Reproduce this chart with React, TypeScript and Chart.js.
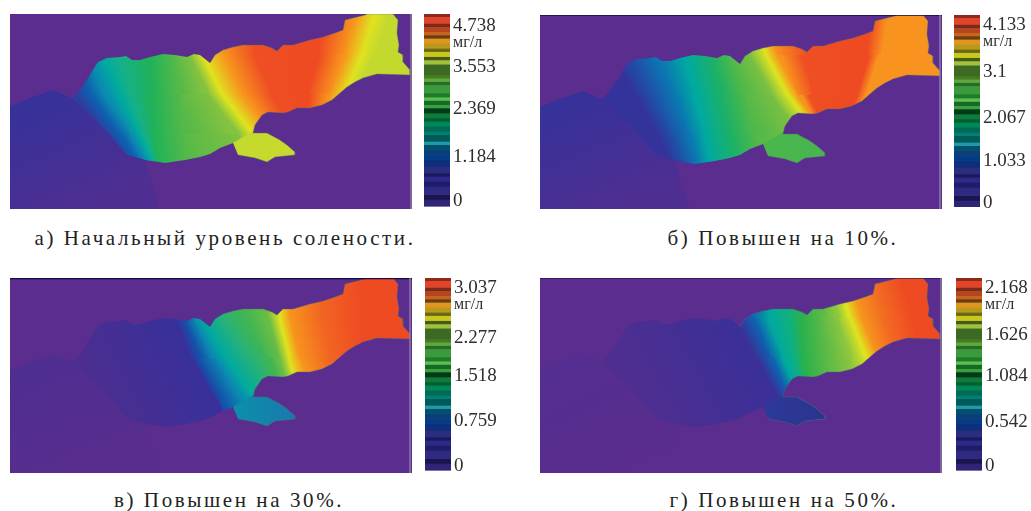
import React, { useEffect, useRef } from "react";
import { Chart, registerables } from "chart.js";

Chart.register(...registerables);

// ----- map shape, in map units -----
const shapeOutline: number[][] = [
  [62, 84], [70, 76], [78, 64], [84, 54], [88, 48], [97, 44], [110, 43], [116, 42], [122, 46], [130, 46], [140, 43], [153, 40], [165, 41], [177, 43], [184, 40], [190, 41],
  [200, 49], [205, 41], [213, 36], [223, 33], [233, 31], [253, 31], [262, 34], [267, 37], [273, 31], [283, 31], [300, 26], [313, 23], [325, 19], [333, 16], [335, 6],
  [355, 1], [357, 0], [383, 0], [388, 6], [387, 19], [389, 31], [388, 38], [393, 41], [393, 48], [400, 56], [400, 61], [367, 60], [360, 62], [353, 64],
  [345, 68], [337, 73], [330, 79], [322, 86], [312, 91], [300, 94], [287, 94], [278, 98], [273, 99], [258, 98], [252, 101], [245, 111], [243, 119], [257, 119],
  [270, 126], [277, 131], [285, 138], [285, 141], [265, 143], [257, 148], [245, 144], [228, 141], [223, 129], [210, 134], [200, 140], [190, 143],
  [175, 146], [155, 149], [135, 146], [117, 141], [90, 111],
];
const lobeShape: number[][] = [
  [223, 129], [243, 117], [257, 119], [270, 126], [277, 131], [285, 138], [285, 141], [265, 143], [257, 148], [245, 144], [228, 141],
];
const plumeShape: number[][] = [
  [0, 92], [20, 84], [43, 76], [62, 84], [90, 111], [117, 141], [135, 146], [150, 195], [0, 195],
];
const isoRows = [0, 40, 80, 120, 160];

// ----- concentration bands: boundary position on each row, and its colour -----
const isoA = [
  [20, 40, 65, 95, 125], [50, 65, 80, 110, 135], [65, 78, 95, 122, 142], [80, 90, 110, 128, 148], [100, 108, 120, 135, 150],
  [140, 140, 141, 143, 148], [165, 165, 170, 175, 180], [175, 180, 198, 228, 262], [183, 192, 212, 243, 280],
  [205, 214, 233, 262, 300], [240, 245, 262, 285, 320], [315, 308, 298, 295, 295], [345, 335, 320, 310, 310],
  [365, 352, 335, 325, 325], [380, 365, 345, 335, 335],
];
const colorsA = ["#2c3f9e", "#0f5fb0", "#0a8cb0", "#00a9a0", "#16b088", "#1fb25a", "#55b948", "#85c240", "#dfe31f", "#f7941d", "#ef4e23", "#ef4a23", "#f7941d", "#dfe21f", "#c4d92e"];

const isoB = [
  [50, 72, 95, 118, 135], [75, 92, 112, 132, 148], [100, 118, 135, 150, 160], [130, 145, 155, 165, 172], [155, 172, 182, 190, 200],
  [180, 190, 205, 215, 225], [195, 210, 232, 260, 290], [212, 226, 248, 278, 310], [222, 238, 258, 285, 315],
  [262, 265, 272, 285, 315], [330, 328, 318, 300, 300], [350, 340, 325, 310, 310],
];
const colorsB = ["#33339b", "#1f50a8", "#0b78b2", "#00a9a2", "#1cb166", "#50b849", "#7bc043", "#dfe31f", "#f7941d", "#ef4e23", "#ef4a23", "#f8931f"];

const isoC = [
  [40, 50, 70, 90, 110], [160, 165, 180, 205, 225], [170, 175, 190, 210, 228], [180, 183, 205, 232, 250], [190, 192, 215, 243, 265],
  [205, 210, 240, 265, 285], [230, 235, 258, 275, 295], [255, 258, 270, 280, 300], [268, 270, 279, 290, 310],
  [278, 280, 290, 305, 320], [310, 312, 320, 330, 340], [350, 350, 355, 360, 365],
];
const colorsC = ["#4c2e90", "#38309a", "#1452aa", "#0b8ab0", "#00a9a0", "#25b27a", "#40b554", "#6abd45", "#dfe31f", "#f7941d", "#f26522", "#ef4b23"];

const isoD = [
  [40, 50, 70, 90, 110], [190, 195, 215, 240, 260], [205, 212, 232, 250, 270], [225, 230, 243, 260, 275], [245, 248, 255, 265, 280],
  [262, 262, 263, 270, 285], [280, 280, 285, 290, 300], [290, 298, 310, 320, 330], [298, 310, 327, 340, 350],
  [310, 322, 338, 350, 360], [335, 345, 355, 365, 370], [360, 372, 380, 385, 390],
];
const colorsD = ["#502e90", "#3a3098", "#1060b0", "#00a9a0", "#0fb080", "#2ab14b", "#57b947", "#8dc63f", "#dfe31f", "#f7941d", "#f26a22", "#ef4b23"];

// ----- colour bar -----
const stripeSizes = [2.7, 6.7, 3.3, 5, 3.3, 3.3, 5, 5, 3.3, 5, 3.3, 4.3, 10.7, 3.3, 3.3, 3.3, 8.3, 4, 3.3, 4.3, 3.3, 5, 5, 3.3, 5, 5, 3.3, 6.7, 3.3, 5, 6.7, 3.3, 6.7, 6.7, 3.3, 5, 5, 8.3, 5, 6.7];
const stripeColors = [
  "#8c2a1e", "#e0452a", "#7a2a1a", "#b5451d", "#c8641e", "#6a3f14", "#e0961e", "#b9981e", "#6a6a14", "#c8c81e",
  "#4a5a14", "#a0c040", "#3c6a22", "#4a7a22", "#5aaa3c", "#2d6a28", "#3a9a3c", "#1f7a2c", "#5cc050", "#156a28",
  "#3aa040", "#013a18", "#107a3a", "#006030", "#00875a", "#006a55", "#008070", "#005a58", "#209aa8", "#005070",
  "#0a3f7a", "#003a8a", "#0e2f7a", "#2a2d80", "#1a1a5a", "#2d2a8a", "#201c68", "#2e2a82", "#1a1550", "#2f2478",
];

const panelA = {
  caption: "а) Начальный уровень солености.", capX: 225, capY: 238,
  left: 10, top: 14, height: 195, iso: isoA, colors: colorsA, lobe: ["#c4d92e", "#c8da2c"],
  plume: ["#35329a", "#4f2e92"], topLine: null as null | number[], edge: 401,
  barLeft: 424, barTop: 14, barHeight: 193,
  tickPos: [12.5, 29, 53.5, 95.5, 143, 187], ticks: ["4.738", "мг/л", "3.553", "2.369", "1.184", "0"],
};
const panelB = {
  caption: "б) Повышен на 10%.", capX: 783, capY: 238,
  left: 540, top: 15, height: 194, iso: isoB, colors: colorsB, lobe: ["#4ab64e", "#47b64f"],
  plume: ["#35329a", "#4f2e92"], topLine: [1.5], edge: 400,
  barLeft: 954, barTop: 15, barHeight: 192,
  tickPos: [10.5, 27, 57, 103, 146.5, 188.5], ticks: ["4.133", "мг/л", "3.1", "2.067", "1.033", "0"],
};
const panelC = {
  caption: "в) Повышен на 30%.", capX: 229, capY: 500,
  left: 10, top: 278, height: 195, iso: isoC, colors: colorsC, lobe: ["#0b90aa", "#1a78ae"],
  plume: ["#4e2e91", "#592d8e"], topLine: [2.5], edge: 400,
  barLeft: 425, barTop: 278, barHeight: 194,
  tickPos: [10.5, 27, 60.5, 98, 143.5, 188.5], ticks: ["3.037", "мг/л", "2.277", "1.518", "0.759", "0"],
};
const panelD = {
  caption: "г) Повышен на 50%.", capX: 784, capY: 500,
  left: 540, top: 278, height: 195, iso: isoD, colors: colorsD, lobe: ["#2d3a98", "#2b3390"],
  plume: ["#542e90", "#5a2d8e"], topLine: [1], edge: 401,
  barLeft: 956, barTop: 278, barHeight: 194,
  tickPos: [10.5, 27, 57.5, 98, 144.5, 188.5], ticks: ["2.168", "мг/л", "1.626", "1.084", "0.542", "0"],
};
const panels = [panelA, panelB, panelC, panelD];
const GROUND = "#5b2d8e";

const pts = (a: number[][]) => a.map(([x, y]) => ({ x, y }));

function linear(p0: number[], p1: number[], c0: string, c1: string) {
  return (c: any) => {
    const { x, y } = c.chart.scales;
    const coords = [x.getPixelForValue(p0[0]), y.getPixelForValue(p0[1]), x.getPixelForValue(p1[0]), y.getPixelForValue(p1[1])];
    if (!coords.every(Number.isFinite)) return c0;
    const g = c.chart.ctx.createLinearGradient(coords[0], coords[1], coords[2], coords[3]);
    g.addColorStop(0, c0);
    g.addColorStop(1, c1);
    return g;
  };
}
const polygon = (data: number[][], backgroundColor: any) => ({
  data: pts(data), backgroundColor, fill: "shape", showLine: true, borderWidth: 0, pointRadius: 0, tension: 0,
});
const stroke = (data: number[][], borderColor: string, borderWidth: number) => ({
  data: pts(data), borderColor, borderWidth, fill: false, showLine: true, pointRadius: 0, tension: 0,
});

function mapDatasets(p: typeof panelA, W: number) {
  const H = p.height;
  const out: any[] = [];
  out.push(polygon([[-2, -2], [W + 2, -2], [W + 2, H + 2], [-2, H + 2]], GROUND));
  // bands, row by row and left to right
  const n = p.iso.length;
  const last = isoRows.length - 1;
  for (let j = 0; j < last; j++) {
    const y0 = isoRows[j], y1 = isoRows[j + 1];
    out.push(polygon([[-2, y0], [p.iso[0][j] + 1, y0], [p.iso[0][j + 1] + 1, y1 + 1], [-2, y1 + 1]], p.colors[0]));
    for (let i = 0; i < n - 1; i++) {
      const l0 = p.iso[i][j], l1 = p.iso[i][j + 1], r0 = p.iso[i + 1][j], r1 = p.iso[i + 1][j + 1];
      const dx = (l1 - l0 + r1 - r0) / 2, dy = y1 - y0;
      const len = Math.hypot(dx, dy);
      const nx = dy / len, ny = -dx / len;
      const ym = (y0 + y1) / 2, lm = (l0 + l1) / 2, rm = (r0 + r1) / 2;
      const reach = (rm - lm) * nx;
      out.push(polygon(
        [[l0, y0], [r0 + 1, y0], [r1 + 1, y1 + 1], [l1, y1 + 1]],
        linear([lm, ym], [lm + nx * reach, ym + ny * reach], p.colors[i], p.colors[i + 1]),
      ));
    }
    out.push(polygon([[p.iso[n - 1][j], y0], [W + 2, y0], [W + 2, y1 + 1], [p.iso[n - 1][j + 1], y1 + 1]], p.colors[n - 1]));
  }
  out.push(polygon(lobeShape, linear([223, 130], [285, 130], p.lobe[0], p.lobe[1])));
  // everything outside the water body
  const hole = [...shapeOutline].reverse();
  out.push(polygon([[-2, -2], [W + 2, -2], [W + 2, H + 2], [-2, H + 2], [-2, -2], ...hole, hole[0], [-2, -2]], GROUND));
  out.push(polygon(plumeShape, linear([30, 80], [80, 195], p.plume[0], p.plume[1])));
  out.push(stroke(shapeOutline.slice(16, 67), "rgba(72,112,112,0.4)", 1));
  if (p.topLine) out.push(stroke([[0, 0], [W, 0]], "#160c45", p.topLine[0]));
  out.push(stroke([[p.edge, 0], [p.edge, H]], "#9a8cab", 1.2));
  return out.reverse();
}

function Panel({ p }: { p: typeof panelA }) {
  const mapRef = useRef<HTMLCanvasElement>(null);
  const barRef = useRef<HTMLCanvasElement>(null);
  const W = 402;
  const barW = 26;
  const barCanvasW = 80;
  const barFoot = 8;
  useEffect(() => {
    const map = new Chart(mapRef.current!, {
      type: "scatter",
      data: { datasets: mapDatasets(p, W) },
      options: {
        animation: false, responsive: false, events: [],
        layout: { padding: 0, autoPadding: false },
        plugins: { legend: { display: false }, tooltip: { enabled: false } },
        scales: {
          x: { type: "linear", min: 0, max: W, display: false },
          y: { type: "linear", min: 0, max: p.height, reverse: true, display: false },
        },
      },
    } as any);
    const bar = new Chart(barRef.current!, {
      type: "bar",
      data: {
        labels: ["c"],
        datasets: stripeSizes.map((v, i) => ({
          data: [v], backgroundColor: stripeColors[i], borderWidth: 0, categoryPercentage: 1, barPercentage: 1,
        })),
      },
      options: {
        animation: false, responsive: false, events: [],
        layout: { padding: { top: 0, left: 0, right: 0, bottom: barFoot }, autoPadding: false },
        plugins: { legend: { display: false }, tooltip: { enabled: false } },
        scales: {
          x: { stacked: true, display: false },
          y: {
            stacked: true, position: "right", reverse: true, min: 0, max: p.barHeight,
            border: { display: false },
            grid: { display: false, drawTicks: false },
            afterFit: (s: any) => {
              s.width = barCanvasW - barW;
              s.paddingTop = 0;
              s.paddingBottom = 0;
            },
            afterBuildTicks: (s: any) => { s.ticks = p.tickPos.map((value) => ({ value })); },
            ticks: {
              autoSkip: false, padding: 3, color: "#2e2e2e",
              font: (c: any) => ({ family: "'Liberation Serif'", size: c.index === 1 ? 16 : 19 }),
              callback: (_v: any, i: number) => p.ticks[i],
            },
          },
        },
      },
    } as any);
    return () => { map.destroy(); bar.destroy(); };
  }, []);
  return (
    <>
      <canvas ref={mapRef} width={W} height={p.height}
        style={{ position: "absolute", left: p.left, top: p.top, width: W, height: p.height, filter: "blur(0.5px)" }} />
      <canvas ref={barRef} width={barCanvasW} height={p.barHeight + barFoot}
        style={{ position: "absolute", left: p.barLeft, top: p.barTop, width: barCanvasW, height: p.barHeight + barFoot, filter: "blur(0.5px)" }} />
      <div style={{
        position: "absolute", left: p.capX, top: p.capY, transform: "translate(-50%,-50%)", whiteSpace: "nowrap",
        font: "21px 'Liberation Serif'", letterSpacing: "2.6px", color: "#222",
      }}>{p.caption}</div>
    </>
  );
}

export default function App() {
  return (
    <div style={{ position: "absolute", left: 0, top: 0, width: 1031, height: 511, overflow: "hidden", background: "#fff" }}>
      {panels.map((p) => <Panel key={p.caption} p={p} />)}
    </div>
  );
}
